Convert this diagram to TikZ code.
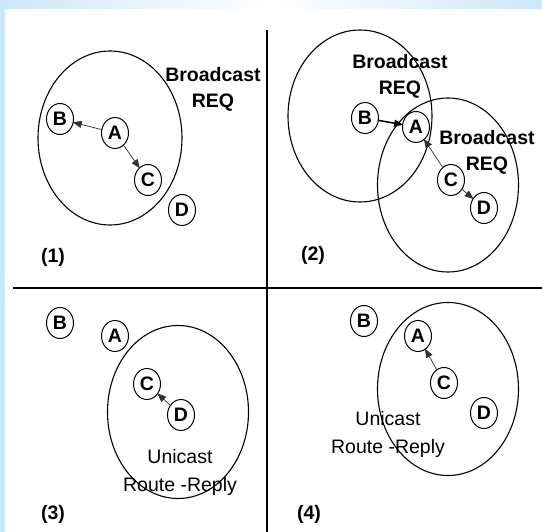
\documentclass[tikz,border=0pt]{standalone}
\usepackage{fontspec}
\setmainfont{Liberation Sans}
\usetikzlibrary{shapes.geometric,arrows.meta}
\definecolor{edgeblue}{RGB}{204,232,249}
\definecolor{linkgray}{RGB}{50,50,50}
\begin{document}
\begin{tikzpicture}[x=1pt,y=-1pt,
  host/.style={draw,ellipse,line width=1pt,minimum width=27pt,minimum height=31pt,inner sep=0pt,
    font=\fontsize{19.5}{22}\selectfont\bfseries},
  radiozone/.style={draw,ellipse,line width=1.1pt,inner sep=0pt},
  bcast/.style={align=center,inner sep=0pt,font=\fontsize{19.5}{26}\selectfont\bfseries},
  ucast/.style={align=center,inner sep=0pt,font=\fontsize{19.5}{28}\selectfont},
  tag/.style={inner sep=0pt,font=\fontsize{19.5}{22}\selectfont\bfseries},
  link/.style={draw=linkgray,line width=0.7pt,-{Triangle[length=9pt,width=7pt]},shorten <=-1pt,shorten >=-1pt},
  boldlink/.style={link,draw=black,line width=1.5pt},
  divider/.style={line width=1.6pt}]
\useasboundingbox (0,0) rectangle (542,532);
% page frame: pale blue edges around a white sheet
\fill[edgeblue] (0,0) rectangle (542,532);
\shade[left color=edgeblue,right color=edgeblue,middle color=white] (0,0) rectangle (542,9);
\fill[white] (5,9) rectangle (542,532);

% quadrant dividers
\coordinate (vtop) at (267,30);
\coordinate (vbot) at (267,532);
\coordinate (hleft) at (13,288);
\coordinate (hright) at (542,288);
\draw[divider] (vtop) -- (vbot);
\draw[divider] (hleft) -- (hright);

% (1) A broadcasts the request
\node[radiozone,minimum width=144pt,minimum height=174pt] (r1) at (110,138) {};
\node[host] (b1) at (60,119) {B};
\node[host] (a1) at (115,133) {A};
\node[host] (c1) at (148,180) {C};
\node[host] (d1) at (182,210) {D};
\draw[link] (a1) -- (b1);
\draw[link] (a1) -- (c1);
\node[bcast] (t1) at (213,89) {Broadcast\\REQ};
\node[tag] (n1) at (53,257) {(1)};

% (2) B and C rebroadcast
\node[radiozone,minimum width=144pt,minimum height=172pt] (r2a) at (360,116) {};
\node[radiozone,minimum width=141pt,minimum height=174pt] (r2b) at (448,185) {};
\node[host] (b2) at (365,118) {B};
\node[host] (a2) at (416,127) {A};
\node[host] (c2) at (451,180) {C};
\node[host] (d2) at (484,208) {D};
\draw[boldlink] (b2) -- (a2);
\draw[link] (c2) -- (a2);
\draw[link] (c2) -- (d2);
\node[bcast] (t2a) at (400,76) {Broadcast\\REQ};
\node[bcast] (t2b) at (487,152) {Broadcast\\REQ};
\node[tag] (n2) at (313,255) {(2)};

% (3) D answers C
\node[radiozone,minimum width=141pt,minimum height=173pt] (r3) at (178,412) {};
\node[host] (b3) at (60,323) {B};
\node[host] (a3) at (115,336) {A};
\node[host] (c3) at (147,384) {C};
\node[host] (d3) at (181,415) {D};
\draw[link] (d3) -- (c3);
\node[ucast] (t3) at (180,472) {Unicast\\Route -Reply};
\node[tag] (n3) at (53,514) {(3)};

% (4) C forwards the reply to A
\node[radiozone,minimum width=141pt,minimum height=173pt] (r4) at (448,389) {};
\node[host] (b4) at (364,321) {B};
\node[host] (a4) at (418,336) {A};
\node[host] (c4) at (444,383) {C};
\node[host] (d4) at (484,413) {D};
\draw[link] (c4) -- (a4);
\node[ucast] (t4) at (388,434) {Unicast\\Route -Reply};
\node[tag] (n4) at (309,514) {(4)};
\end{tikzpicture}
\end{document}
